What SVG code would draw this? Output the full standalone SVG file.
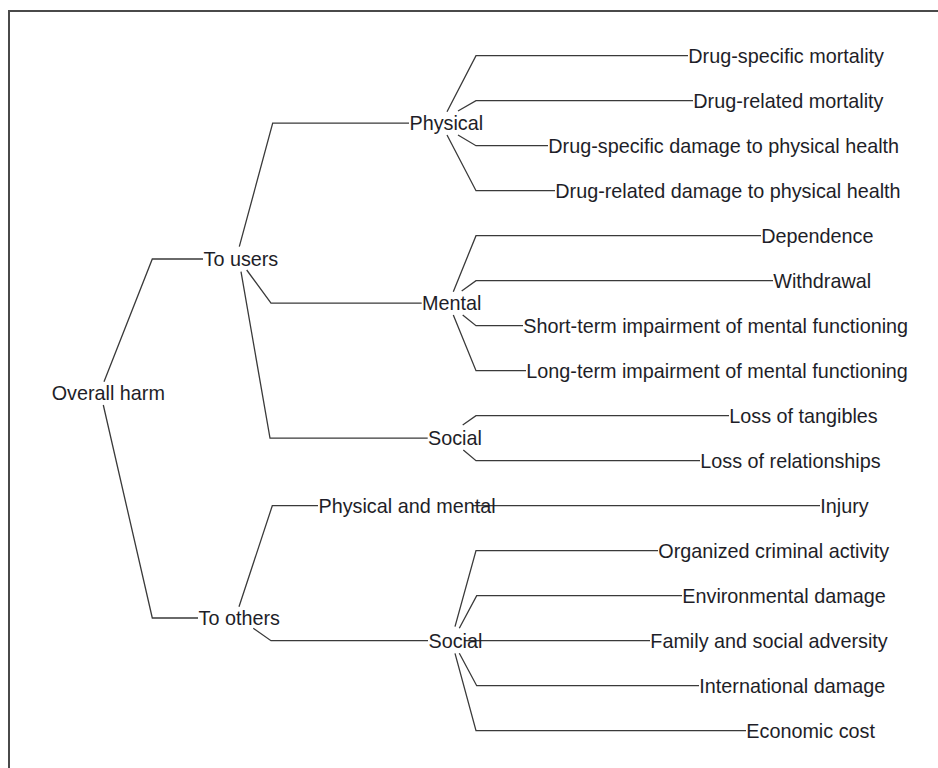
<svg xmlns="http://www.w3.org/2000/svg" width="938" height="768" viewBox="0 0 938 768">
<style>
.c path{fill:none;stroke:#3a3a3a;stroke-width:1.3}
text{font-family:"Liberation Sans",Arial,sans-serif;font-size:19.8px;fill:#1e1e28}
</style>
<rect width="938" height="768" fill="#fff"/>
<path d="M9,768 V11 H938" fill="none" stroke="#4a4a4a" stroke-width="2"/>
<g class="c" id="connectors">
<path d="M104,381.7 L152.3,259 H203"/>
<path d="M103.3,405 L152.3,618 H198"/>
<path d="M239.3,246.7 L272.7,123.2 H409"/>
<path d="M246.7,270 L271,303.2 H421.7"/>
<path d="M241,271.7 L270,438.2 H427.7"/>
<path d="M239,606.7 L272.3,505.7 H318"/>
<path d="M253.3,628.3 L271,640.7 H428"/>
<path d="M447,111.7 L476,55.7 H688"/>
<path d="M458,111 L476,100.7 H693"/>
<path d="M458,135 L476,145.7 H548"/>
<path d="M447,135 L476,190.7 H555"/>
<path d="M453.3,291.7 L476,235.7 H761"/>
<path d="M461.7,291 L476,280.7 H773"/>
<path d="M462.7,315 L476,325.7 H523"/>
<path d="M453.3,315 L476,370.7 H526"/>
<path d="M462.7,425 L476,415.7 H729"/>
<path d="M463.3,450 L476,460.7 H700"/>
<path d="M473,505.7 H820"/>
<path d="M455,626.7 L476,550.7 H658"/>
<path d="M459.3,628.3 L476.7,595.7 H682"/>
<path d="M464,640.7 H650"/>
<path d="M459.3,653.3 L476.7,685.7 H699"/>
<path d="M455,653.3 L476,730.7 H746"/>
</g>
<g id="overall"><text x="51.7" y="400">Overall harm</text></g>
<g id="to-users"><text x="203.5" y="266">To users</text></g>
<g id="to-others"><text x="198.5" y="625">To others</text></g>
<g id="physical"><text x="409.5" y="130.2">Physical</text></g>
<g id="mental"><text x="422" y="310.2">Mental</text></g>
<g id="social-users"><text x="428" y="445.2">Social</text></g>
<g id="phys-mental"><text x="318.5" y="512.7">Physical and mental</text></g>
<g id="social-others"><text x="428.5" y="647.7">Social</text></g>
<g id="l1"><text x="688.3" y="62.7">Drug-specific mortality</text></g>
<g id="l2"><text x="693.3" y="107.7">Drug-related mortality</text></g>
<g id="l3"><text x="548.3" y="152.7">Drug-specific damage to physical health</text></g>
<g id="l4"><text x="555.3" y="197.7">Drug-related damage to physical health</text></g>
<g id="l5"><text x="761.3" y="242.7">Dependence</text></g>
<g id="l6"><text x="773.3" y="287.7">Withdrawal</text></g>
<g id="l7"><text x="523.3" y="332.7">Short-term impairment of mental functioning</text></g>
<g id="l8"><text x="526.3" y="377.7">Long-term impairment of mental functioning</text></g>
<g id="l9"><text x="729.3" y="422.7">Loss of tangibles</text></g>
<g id="l10"><text x="700.3" y="467.7">Loss of relationships</text></g>
<g id="l11"><text x="820.3" y="512.7">Injury</text></g>
<g id="l12"><text x="658.3" y="557.7">Organized criminal activity</text></g>
<g id="l13"><text x="682.3" y="602.7">Environmental damage</text></g>
<g id="l14"><text x="650.3" y="647.7">Family and social adversity</text></g>
<g id="l15"><text x="699.3" y="692.7">International damage</text></g>
<g id="l16"><text x="746.3" y="737.7">Economic cost</text></g>
</svg>
